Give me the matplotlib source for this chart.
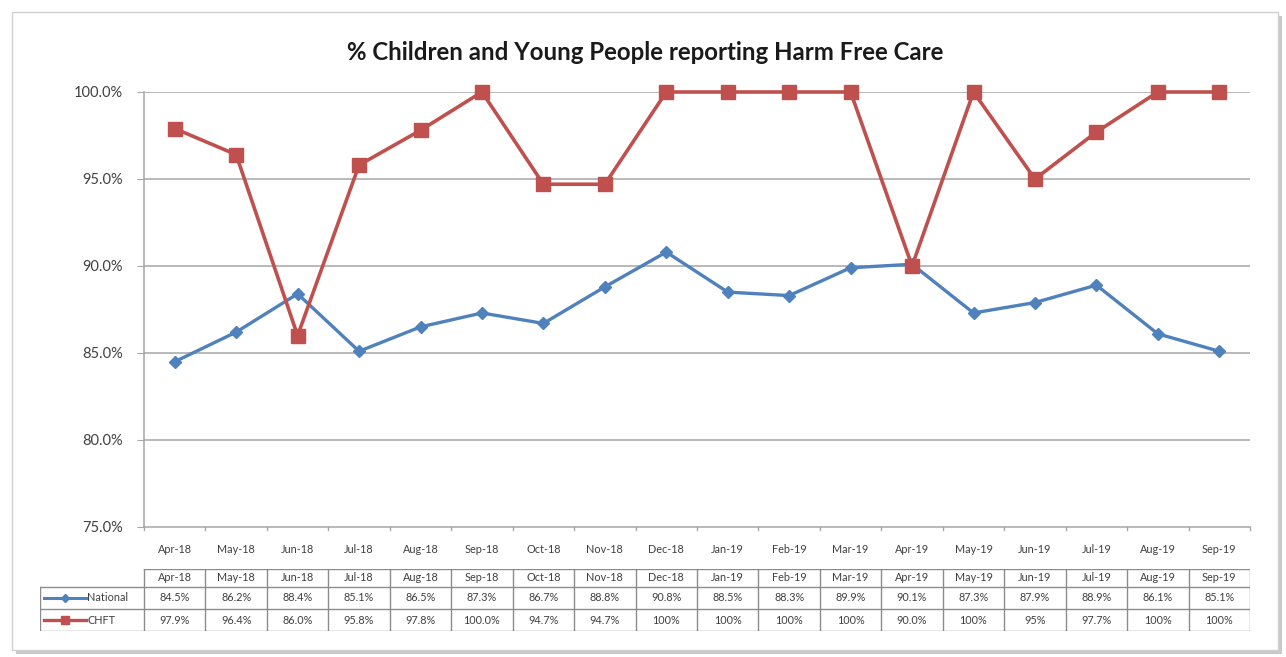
import matplotlib.pyplot as plt
from matplotlib.lines import Line2D
from matplotlib.patches import Rectangle

plt.rcParams['font.family'] = ['Lato', 'DejaVu Sans']

months = ['Apr-18', 'May-18', 'Jun-18', 'Jul-18', 'Aug-18', 'Sep-18', 'Oct-18', 'Nov-18', 'Dec-18',
          'Jan-19', 'Feb-19', 'Mar-19', 'Apr-19', 'May-19', 'Jun-19', 'Jul-19', 'Aug-19', 'Sep-19']
national = [84.5, 86.2, 88.4, 85.1, 86.5, 87.3, 86.7, 88.8, 90.8,
            88.5, 88.3, 89.9, 90.1, 87.3, 87.9, 88.9, 86.1, 85.1]
chft = [97.9, 96.4, 86.0, 95.8, 97.8, 100.0, 94.7, 94.7, 100,
        100, 100, 100, 90.0, 100, 95, 97.7, 100, 100]
# decimals shown in the data table for each CHFT value
chft_decimals = [1, 1, 1, 1, 1, 1, 1, 1, 0, 0, 0, 0, 1, 0, 0, 1, 0, 0]
y_ticks = [75, 80, 85, 90, 95, 100]

BLUE = '#4F81BD'
RED = '#C0504D'
GRID = '#A6A6A6'
TEXT = '#404040'

W, H = 1286, 657
fig = plt.figure(figsize=(W / 100, H / 100), dpi=100)


def fx(px):
    return px / W


def fy(py):
    return 1 - py / H


# chart frame with a soft shadow on the right and bottom
fig.patches.append(Rectangle((fx(16), fy(654)), fx(1266), fy(16) - fy(654),
                             transform=fig.transFigure, facecolor='#C8C8C8',
                             edgecolor='none', zorder=-2))
fig.patches.append(Rectangle((fx(12), fy(650)), fx(1266), fy(12) - fy(650),
                             transform=fig.transFigure, facecolor='white',
                             edgecolor='#D0D0D0', linewidth=1, zorder=-1))

ax = fig.add_axes([fx(144), fy(527), fx(1250 - 144), fy(92) - fy(527)])
ax.patch.set_alpha(0)
x = list(range(len(months)))

ax.plot(x, national, color=BLUE, linewidth=2.4, marker='D', markersize=6.5,
        markerfacecolor=BLUE, markeredgecolor=BLUE, zorder=3, clip_on=False)
ax.plot(x, chft, color=RED, linewidth=2.6, marker='s', markersize=10,
        markerfacecolor=RED, markeredgecolor=RED, zorder=4, clip_on=False)

ax.set_xlim(-0.5, len(months) - 0.5)
ax.set_ylim(75, 100)
ax.set_yticks(y_ticks)
ax.set_yticklabels([f'{v:.1f}%' for v in y_ticks], fontsize=10.5, color=TEXT)
for v in y_ticks[1:]:
    ax.axhline(v, color=GRID, linewidth=1.1, zorder=1)

ax.set_xticks(x)
ax.set_xticklabels(months, fontsize=7.8, color=TEXT)
ax.tick_params(axis='x', length=0, pad=12)
ax.tick_params(axis='y', length=5, color=GRID, pad=10)
for pos in ['top', 'right']:
    ax.spines[pos].set_visible(False)
for pos in ['left', 'bottom']:
    ax.spines[pos].set_color(GRID)
    ax.spines[pos].set_linewidth(1.1)
# category boundary ticks below the axis
for b in [i - 0.5 for i in range(len(months) + 1)]:
    ax.plot([b, b], [75, 74.8], color=GRID, linewidth=1, clip_on=False)

fig.text(fx(645), fy(52), '% Children and Young People reporting Harm Free Care',
         ha='center', va='center', fontsize=17.3, fontweight='bold', color='#1A1A1A')

# data table under the chart
x_left = -0.5 - (144 - 40) / ((1250 - 144) / len(months))
tax = fig.add_axes([fx(40), fy(631), fx(1250 - 40), fy(569) - fy(631)])
tax.patch.set_alpha(0)
tax.set_xlim(x_left, len(months) - 0.5)
tax.set_ylim(3, 0)
tax.axis('off')

tcol = '#8C8C8C'
tax.plot([-0.5, len(months) - 0.5], [0, 0], color=tcol, lw=1)
for r in [0.85, 1.95, 3]:
    tax.plot([x_left, len(months) - 0.5], [r, r], color=tcol, lw=1)
for i in range(len(months) + 1):
    tax.plot([i - 0.5, i - 0.5], [0, 3], color=tcol, lw=1)
tax.plot([x_left, x_left], [0.85, 3], color=tcol, lw=1)

rows_y = [0.43, 1.4, 2.47]
for i, m in enumerate(months):
    tax.text(i, rows_y[0], m, ha='center', va='center', fontsize=7.8, color=TEXT)
    tax.text(i, rows_y[1], f'{national[i]:.1f}%', ha='center', va='center', fontsize=7.8, color=TEXT)
    tax.text(i, rows_y[2], f'{chft[i]:.{chft_decimals[i]}f}%', ha='center', va='center',
             fontsize=7.8, color=TEXT)

key_x0 = x_left + 0.07
key_x1 = x_left + 0.75
key_mid = (key_x0 + key_x1) / 2
tax.add_line(Line2D([key_x0, key_x1], [rows_y[1], rows_y[1]], color=BLUE, lw=2.2))
tax.plot([key_mid], [rows_y[1]], marker='D', color=BLUE, markersize=4.5)
tax.add_line(Line2D([key_x0, key_x1], [rows_y[2], rows_y[2]], color=RED, lw=2.4))
tax.plot([key_mid], [rows_y[2]], marker='s', color=RED, markersize=6)
tax.text(key_x1 + 0.02, rows_y[1], 'National', ha='left', va='center', fontsize=7.8, color=TEXT)
tax.text(key_x1 + 0.02, rows_y[2], 'CHFT', ha='left', va='center', fontsize=7.8, color=TEXT)

fig.savefig('out.png', dpi=100, facecolor='white')
